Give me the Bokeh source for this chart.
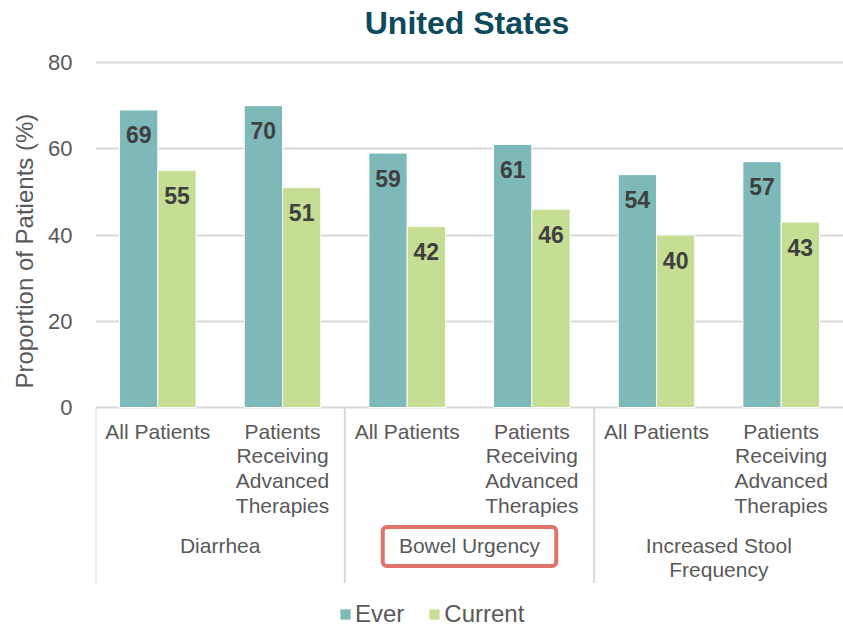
import math
from bokeh.plotting import figure
from bokeh.models import (ColumnDataSource, FactorRange, Range1d, FixedTicker,
                          Legend, LegendItem, Label, BoxAnnotation, Title)
from bokeh.transform import dodge
from bokeh.core.properties import value
from bokeh.embed import file_html
from bokeh.resources import INLINE

# ---------------- data ----------------
chart_title = "United States"
groups = ["Diarrhea", "Bowel Urgency", "Increased Stool\nFrequency"]
subgroups = ["All Patients", "Patients\nReceiving\nAdvanced\nTherapies"]
series_names = ["Ever", "Current"]
ever = [69, 70, 59, 61, 54, 57]
current = [55, 51, 42, 46, 40, 43]
y_ticks = [0, 20, 40, 60, 80]
y_label = "Proportion of Patients (%)"
highlight_group = "Bowel Urgency"

# ---------------- style / layout ----------------
C_EVER = "#7EB9B9"
C_CURR = "#C6DE93"
C_TEXT = "#595959"
C_VAL = "#404040"
C_GRID = "#D9D9D9"
C_TITLE = "#0D4A5C"
C_HILITE = "#E0736A"
FONT = "Liberation Sans"

W, H = 843, 627
LEFT = 95
ZERO_PX = 407       # figure px where y=0 sits
PX_PER_UNIT = 345 / 80.0
y_end = ZERO_PX / PX_PER_UNIT
y_start = -(H - ZERO_PX) / PX_PER_UNIT

factors = [(g, s) for g in groups for s in subgroups]
BAR_W = 0.307
UNIT_PX = (W - LEFT) / len(factors)

p = figure(width=W, height=H, output_backend="svg", toolbar_location=None,
           x_range=FactorRange(factors=factors, factor_padding=0, group_padding=0,
                               subgroup_padding=0, range_padding=0),
           y_range=Range1d(y_start, y_end))
p.min_border_left = LEFT
p.min_border_right = 0
p.min_border_top = 0
p.min_border_bottom = 0
p.outline_line_color = None
p.background_fill_color = "white"
p.border_fill_color = "white"

p.xaxis.visible = False
p.xgrid.visible = False
p.ygrid.ticker = FixedTicker(ticks=y_ticks)
p.ygrid.grid_line_color = C_GRID
p.ygrid.grid_line_width = 2

ya = p.yaxis[0]
ya.ticker = FixedTicker(ticks=y_ticks)
ya.axis_line_color = None
ya.major_tick_line_color = None
ya.minor_tick_line_color = None
ya.major_tick_out = 0
ya.major_tick_in = 0
ya.major_label_standoff = 23
ya.major_label_text_font = FONT
ya.major_label_text_font_size = "22px"
ya.major_label_text_color = C_TEXT

src = ColumnDataSource(dict(
    x=factors,
    ever=ever,
    current=current,
    ever_lbl=[str(v) for v in ever],
    curr_lbl=[str(v) for v in current],
    sub=[f[1] for f in factors],
))

r_ever = p.vbar(x=dodge("x", -BAR_W / 2, range=p.x_range), top="ever", bottom=0,
                width=BAR_W, source=src, fill_color=C_EVER, line_color="white",
                line_width=1)
r_curr = p.vbar(x=dodge("x", BAR_W / 2, range=p.x_range), top="current", bottom=0,
                width=BAR_W, source=src, fill_color=C_CURR, line_color="white",
                line_width=1)

lbl_kw = dict(text_align="center", text_baseline="middle", text_font=value(FONT),
              text_font_size="23px", text_font_style="bold", text_color=C_VAL,
              y_offset=25, source=src)
p.text(x=dodge("x", -BAR_W / 2, range=p.x_range), y="ever", text="ever_lbl", **lbl_kw)
p.text(x=dodge("x", BAR_W / 2, range=p.x_range), y="current", text="curr_lbl", **lbl_kw)

# group separators (category axis line at y=0 is the 0 grid line)
gsrc = ColumnDataSource(dict(group=groups))
sep_bottom = -(582.5 - ZERO_PX) / PX_PER_UNIT
p.segment(x0=dodge("group", -len(subgroups) / 2, range=p.x_range), y0=0,
          x1=dodge("group", -len(subgroups) / 2, range=p.x_range), y1=sep_bottom,
          source=gsrc, line_color=C_GRID, line_width=2)

# sub-category labels
p.text(x="x", y=0, text="sub", source=src, y_offset=12, text_align="center",
       text_baseline="top", text_font=value(FONT), text_font_size="21px",
       text_color=C_TEXT, text_line_height=1.086)

# group labels
p.text(x="group", y=0, text="group", source=gsrc, y_offset=126, text_align="center",
       text_baseline="top", text_font=value(FONT), text_font_size="21px",
       text_color=C_TEXT, text_line_height=1.08)

# highlight box around group label
hi = groups.index(highlight_group) * len(subgroups) + len(subgroups) / 2
half_w = 173.5 / 2 / UNIT_PX
box = BoxAnnotation(left=hi - half_w, right=hi + half_w,
                    top=-(526.5 - ZERO_PX) / PX_PER_UNIT,
                    bottom=-(565.5 - ZERO_PX) / PX_PER_UNIT,
                    fill_color=None, fill_alpha=0, line_color=C_HILITE,
                    line_width=4, line_alpha=1, border_radius=4)
p.add_layout(box)

# chart title
p.add_layout(Label(x=len(factors) / 2, y=(ZERO_PX - 22) / PX_PER_UNIT, text=chart_title,
                   text_align="center", text_baseline="middle", x_offset=-2.5,
                   text_font=FONT, text_font_size="32px", text_font_style="bold",
                   text_color=C_TITLE))

# y-axis title (vertical title in the left panel, starting 239px above the frame bottom)
p.add_layout(Title(text=y_label, align="left", offset=H - 388, standoff=16,
                   text_font=FONT, text_font_size="24px", text_font_style="normal",
                   text_color=C_TEXT), "left")

legend = Legend(items=[LegendItem(label=series_names[0], renderers=[r_ever]),
                       LegendItem(label=series_names[1], renderers=[r_curr])],
                orientation="horizontal", location=(338 - LEFT, -1),
                glyph_width=14, glyph_height=14, label_standoff=3, spacing=23,
                padding=0, margin=0, border_line_color=None,
                background_fill_alpha=0, label_text_font=FONT,
                label_text_font_size="24px", label_text_color=C_TEXT)
p.add_layout(legend)

open("out.html", "w").write(file_html(p, INLINE))
